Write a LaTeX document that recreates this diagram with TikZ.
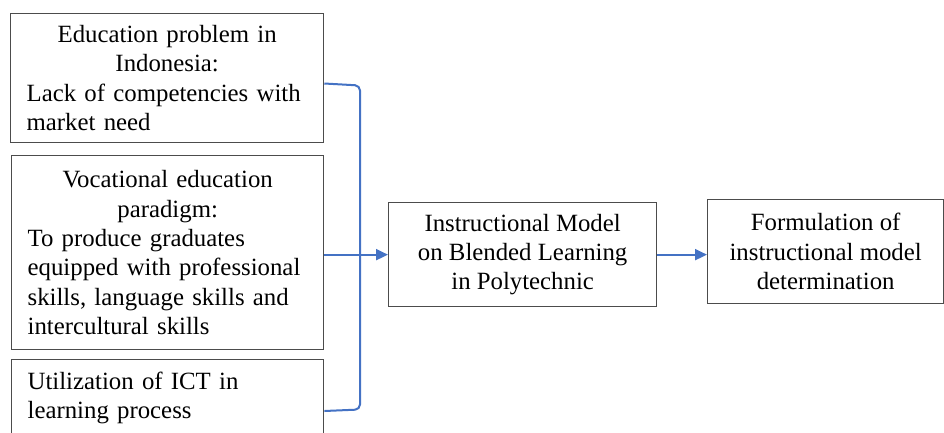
\documentclass[tikz,border=0pt]{standalone}
\usepackage{fontspec}
\setmainfont{Liberation Serif}
\usetikzlibrary{arrows.meta,calc}
\definecolor{blueline}{RGB}{68,114,196}
\begin{document}
\begin{tikzpicture}[x=1pt,y=-1pt,
  box/.style={draw=black!70, line width=1.3pt, inner sep=0pt, anchor=north west,
    font=\fontsize{24.8}{29.3}\selectfont\setlength\parindent{0pt}},
  conn/.style={draw=blueline, line width=2pt},
  arr/.style={conn, -{Triangle[length=12pt,width=11pt]}}]
\useasboundingbox (0,0) rectangle (944,432);

\node[box, minimum width=313pt, minimum height=129pt, text width=281pt] (b1) at (10,13)
  {{\centering Education problem in\\Indonesia:\par}\raggedright Lack of competencies with\\market need\par};

\node[box, minimum width=312pt, minimum height=194pt, text width=280pt] (b2) at (11,155)
  {{\centering Vocational education\\paradigm:\par}\raggedright To produce graduates\\equipped with professional\\skills, language skills and\\intercultural skills\par};

\node[box, minimum width=312pt, minimum height=77pt, text width=280pt] (b3) at (11,359)
  {\raggedright Utilization of ICT in\\learning process\par};

\node[box, minimum width=268pt, minimum height=104pt, align=center] (b4) at (388,202)
  {Instructional Model\\on Blended Learning\\in Polytechnic};

\node[box, minimum width=236pt, minimum height=104pt, align=center] (b5) at (707,199)
  {Formulation of\\instructional model\\determination};

\coordinate (t1) at ($(b1.north east)+(0,70.5)$);
\coordinate (t3) at ($(b3.north east)+(0,52)$);
\draw[conn, rounded corners=5pt] (t1) -- (360,85.5) -- (360,409.5) -- (t3);

\draw[arr] (b2.east |- b4.west) -- (b4.west);
\draw[arr] (b4.east) -- (b4.east -| b5.west);
\end{tikzpicture}
\end{document}
